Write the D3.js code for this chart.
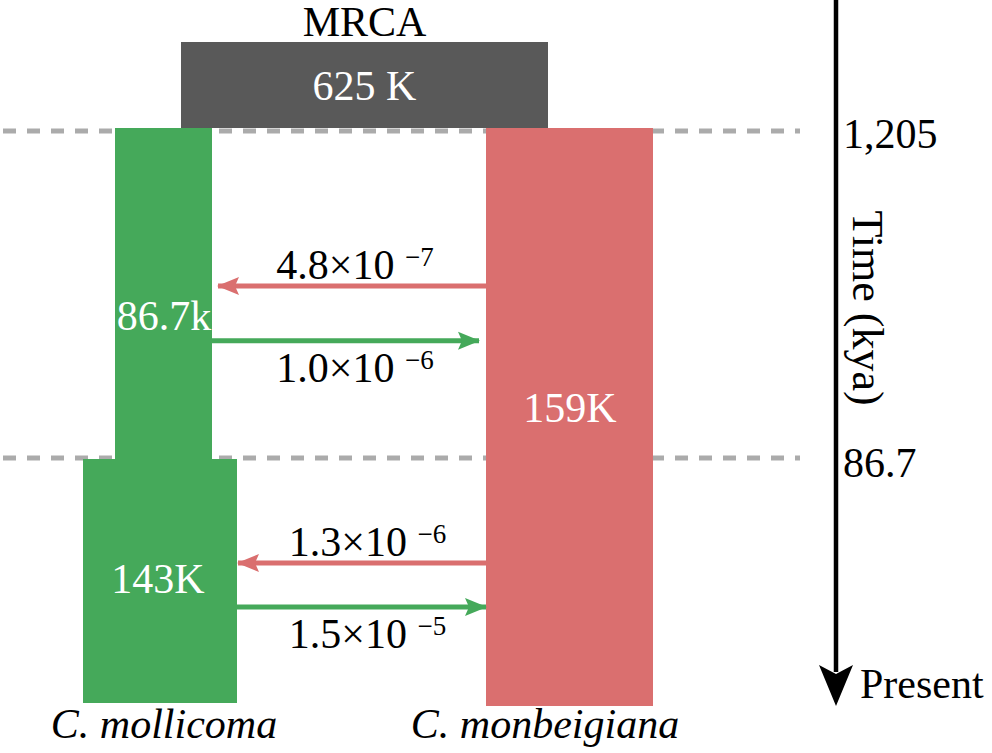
<!DOCTYPE html>
<html>
<head>
<meta charset="utf-8">
<script src="https://cdn.jsdelivr.net/npm/d3@7"></script>
<style>
  html, body { margin: 0; padding: 0; background: #fff; }
  svg { display: block; }
  text { font-family: "Liberation Serif", "Times New Roman", serif; }
</style>
</head>
<body>
<svg id="chart" width="992" height="753"></svg>
<script>
// ---------- data ----------
const epochLabels = ["1,205", "86.7", "Present"];      // time boundaries (kya)
const axisTitle = "Time (kya)";
const ancestorName = "MRCA";
const ancestorNe = "625 K";
const species = ["C. mollicoma", "C. monbeigiana"];
const neEpoch1 = ["86.7k", "159K"];                   // older epoch
const neEpoch2 = ["143K", "159K"];                    // recent epoch
const migBase = ["4.8×10", "1.0×10", "1.3×10", "1.5×10"];
const migExp = ["−7", "−6", "−6", "−5"];
const migFrom = [1, 0, 1, 0];                          // source population index
const migEpoch = [0, 0, 1, 1];                         // epoch index

// ---------- layout / style ----------
const colors = { green: "#45a95a", red: "#da6f6f", dark: "#595959", dash: "#ababab", ink: "#000" };
const popColor = [colors.green, colors.red];
const font = 42;
const svg = d3.select("#chart");

// time scale: epoch boundary index -> vertical position
const y = d3.scaleLinear().domain([0, 1, 2]).range([129, 460, 703]);

// horizontal layout of the blocks per epoch
const blocks = {
  ancestor: [181, 548],
  epoch1: [[115, 212], [486, 653]],
  epoch2: [[83, 237], [486, 653]]
};
const x = d3.scaleLinear().domain([0, 992]).range([0, 992]);
const migFrac = [0.474, 0.640, 0.424, 0.605];
const migGap = [6, 7, 1, 0];

// dashed epoch boundaries (behind)
svg.selectAll("line.dash").data([0, 1]).join("line")
  .attr("class", "dash")
  .attr("x1", x(3)).attr("x2", x(800))
  .attr("y1", d => y(d) + (d === 0 ? 2 : -2)).attr("y2", d => y(d) + (d === 0 ? 2 : -2))
  .attr("stroke", colors.dash).attr("stroke-width", 5)
  .attr("stroke-dasharray", "13,11");

// ancestral block
svg.append("rect")
  .attr("x", x(blocks.ancestor[0])).attr("y", 42)
  .attr("width", x(blocks.ancestor[1]) - x(blocks.ancestor[0]))
  .attr("height", y(0) - 1 - 42)
  .attr("fill", colors.dark);
const ancCx = (x(blocks.ancestor[0]) + x(blocks.ancestor[1])) / 2;
svg.append("text").attr("x", ancCx).attr("y", 36).attr("text-anchor", "middle")
  .attr("font-size", font).attr("fill", colors.ink).text(ancestorName);
svg.append("text").attr("x", ancCx).attr("y", 100).attr("text-anchor", "middle")
  .attr("font-size", font).attr("fill", "#fff").text(ancestorNe);

// population blocks
const red = [
  { x0: blocks.epoch1[1][0], x1: blocks.epoch1[1][1], t0: 0, t1: 2, c: popColor[1] }
];
const green = [
  { x0: blocks.epoch1[0][0], x1: blocks.epoch1[0][1], t0: 0, t1: 1, c: popColor[0] },
  { x0: blocks.epoch2[0][0], x1: blocks.epoch2[0][1], t0: 1, t1: 2, c: popColor[0] }
];
svg.selectAll("rect.pop").data(green.concat(red)).join("rect")
  .attr("class", "pop")
  .attr("x", d => x(d.x0)).attr("width", d => x(d.x1) - x(d.x0))
  .attr("y", d => y(d.t0) - 1)
  .attr("height", d => y(d.t1) - y(d.t0) + 1 + (d.c === colors.red ? 3 : 0))
  .attr("fill", d => d.c);

// Ne labels
const neLabels = [
  { t: neEpoch1[0], cx: 164, by: 330 },
  { t: neEpoch2[0], cx: 158, by: 593 },
  { t: neEpoch1[1], cx: 570, by: 422 }
];
svg.selectAll("text.ne").data(neLabels).join("text")
  .attr("class", "ne").attr("text-anchor", "middle")
  .attr("x", d => x(d.cx)).attr("y", d => d.by)
  .attr("font-size", font).attr("fill", "#fff").text(d => d.t);

// arrow markers
const defs = svg.append("defs");
popColor.forEach((c, i) => {
  defs.append("marker").attr("id", "head" + i)
    .attr("markerUnits", "userSpaceOnUse")
    .attr("markerWidth", 22).attr("markerHeight", 20)
    .attr("viewBox", "0 0 22 20").attr("refX", 21).attr("refY", 10)
    .attr("orient", "auto")
    .append("path").attr("d", "M0,1 L22,10 L0,19 L4,10 Z").attr("fill", c);
});

// migration arrows
const mig = migBase.map((b, i) => {
  const ep = migEpoch[i];
  const blk = ep === 0 ? blocks.epoch1 : blocks.epoch2;
  const leftEdge = blk[0][1], rightEdge = blk[1][0];
  const yy = y(ep + migFrac[i]);
  const fromRight = migFrom[i] === 1;
  return {
    base: b, exp: migExp[i], c: popColor[migFrom[i]], m: "url(#head" + migFrom[i] + ")",
    xs: fromRight ? rightEdge : leftEdge,
    xe: fromRight ? leftEdge + migGap[i] : rightEdge - migGap[i],
    y: yy, mid: (leftEdge + rightEdge) / 2 + 6,
    above: fromRight
  };
});
svg.selectAll("line.mig").data(mig).join("line")
  .attr("class", "mig")
  .attr("x1", d => x(d.xs)).attr("x2", d => x(d.xe))
  .attr("y1", d => d.y).attr("y2", d => d.y)
  .attr("stroke", d => d.c).attr("stroke-width", 5)
  .attr("marker-end", d => d.m);

const migText = svg.selectAll("text.mig").data(mig).join("text")
  .attr("class", "mig").attr("text-anchor", "middle")
  .attr("x", d => x(d.mid)).attr("y", d => d.above ? d.y - 7 : d.y + 41)
  .attr("font-size", font).attr("fill", colors.ink);
migText.append("tspan").text(d => d.base + " ");
migText.append("tspan").attr("font-size", 27).attr("dy", -13).text(d => d.exp);

// species labels
const spX = [164, 545];
svg.selectAll("text.sp").data(species).join("text")
  .attr("class", "sp").attr("text-anchor", "middle")
  .attr("x", (d, i) => x(spX[i])).attr("y", 738)
  .attr("font-size", font).attr("font-style", "italic").attr("fill", colors.ink)
  .text(d => d);

// time axis
const axX = 836;
svg.append("line").attr("x1", axX).attr("x2", axX).attr("y1", 0).attr("y2", 672)
  .attr("stroke", colors.ink).attr("stroke-width", 4.5);
svg.append("path")
  .attr("d", `M${axX - 17},665 L${axX},674 L${axX + 17},665 L${axX},706 Z`)
  .attr("fill", colors.ink);
svg.selectAll("text.tick").data(epochLabels).join("text")
  .attr("class", "tick")
  .attr("x", (d, i) => i === 2 ? 860 : 843)
  .attr("y", (d, i) => i === 0 ? 148 : i === 1 ? 477 : 698)
  .attr("font-size", font).attr("fill", colors.ink).text(d => d);
svg.append("text")
  .attr("transform", "translate(853,308) rotate(90)")
  .attr("text-anchor", "middle").attr("font-size", 44).attr("fill", colors.ink)
  .text(axisTitle);
</script>
</body>
</html>
